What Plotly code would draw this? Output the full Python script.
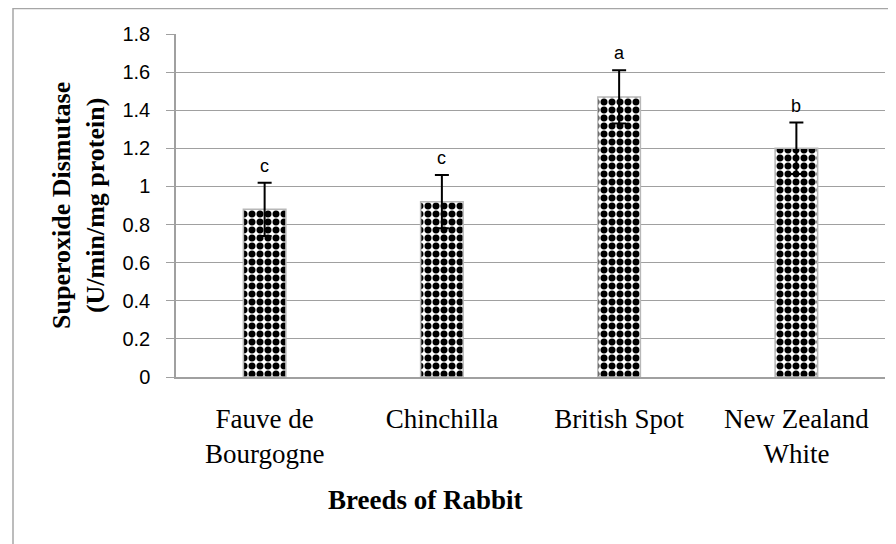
import plotly.graph_objects as go

breeds = ["Fauve de<br>Bourgogne", "Chinchilla", "British Spot", "New Zealand<br>White"]
sod_values = [0.88, 0.92, 1.47, 1.20]
sod_errors = [0.14, 0.14, 0.14, 0.135]
letters = ["c", "c", "a", "b"]
y_ticks = [0, 0.2, 0.4, 0.6, 0.8, 1, 1.2, 1.4, 1.6, 1.8]

W, H = 896, 544
L, R, T, B = 168, 19, 26, 175
pw, ph = W - L - R, H - T - B
OFF = 8  # page body margin offset

def px_x(p):
    return (p - OFF - L) / pw

def px_y(p):
    return (H - B - (p - OFF)) / ph

fig = go.Figure()
fig.add_trace(go.Bar(
    x=breeds, y=sod_values, width=0.24,
    marker=dict(color="white", line=dict(color="#b8b8b8", width=1.5),
                pattern=dict(shape=".", fgcolor="black", bgcolor="white", size=8,
                             solidity=0.6, fgopacity=1)),
    error_y=dict(type="data", array=sod_errors, color="black", thickness=2, width=7),
    showlegend=False,
))

for b, v, e, t in zip(breeds, sod_values, sod_errors, letters):
    fig.add_annotation(x=b, y=v + e, text=t, showarrow=False, yshift=17,
                       font=dict(family="Liberation Sans", size=18, color="black"))

fig.add_annotation(xref="paper", yref="paper", x=px_x(78), y=px_y(206),
                   xanchor="center", yanchor="middle",
                   text="<b>Superoxide Dismutase<br>(U/min/mg protein)</b>",
                   textangle=-90, showarrow=False,
                   font=dict(family="Liberation Serif", size=26, color="black"))
fig.add_annotation(xref="paper", yref="paper", x=px_x(425), y=px_y(500),
                   xanchor="center", yanchor="middle",
                   text="<b>Breeds of Rabbit</b>", showarrow=False,
                   font=dict(family="Liberation Serif", size=27, color="black"))

fig.add_shape(type="rect", xref="paper", yref="paper",
              x0=px_x(13), x1=px_x(920), y0=px_y(580), y1=px_y(8.5),
              line=dict(color="#a6a6a6", width=1.5), fillcolor="rgba(0,0,0,0)")

fig.update_layout(
    width=W, height=H, margin=dict(l=L, r=R, t=T, b=B),
    plot_bgcolor="white", paper_bgcolor="white",
    xaxis=dict(showline=True, linecolor="#a0a0a0", linewidth=1.5, showgrid=False,
               ticks="outside", ticklen=17, tickcolor="rgba(0,0,0,0)",
               tickfont=dict(family="Liberation Serif", size=27, color="black")),
    yaxis=dict(range=[0, 1.8], tickvals=y_ticks, showline=True, linecolor="#a0a0a0",
               linewidth=1.5, showgrid=True, gridcolor="#a0a0a0", gridwidth=1,
               ticks="outside", ticklen=8, tickcolor="#a0a0a0",
               ticklabelstandoff=12,
               tickfont=dict(family="Liberation Sans", size=20, color="black"),
               zeroline=False),
)

fig.write_html("out.html")
